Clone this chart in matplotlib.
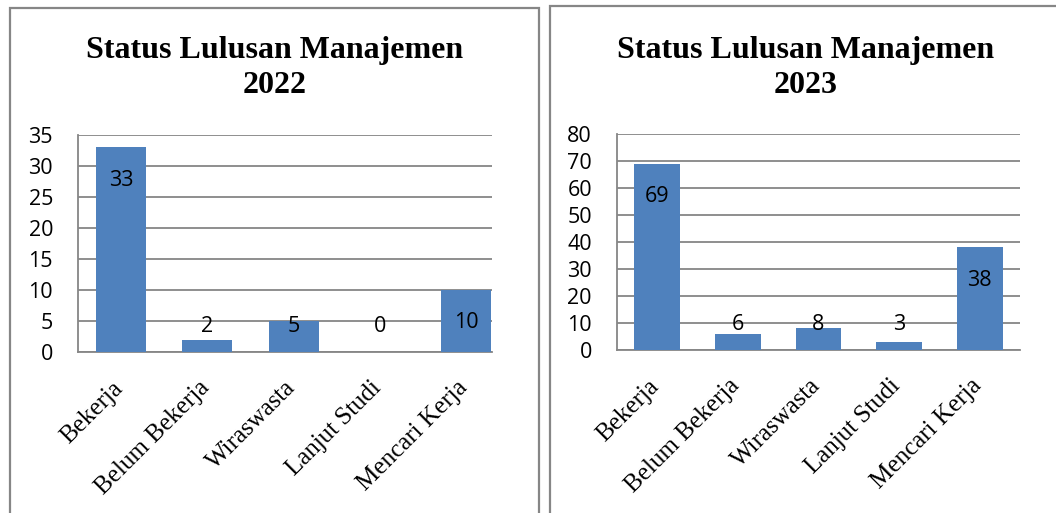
import matplotlib.pyplot as plt
from matplotlib.patches import Rectangle
from matplotlib.transforms import ScaledTranslation

categories = ["Bekerja", "Belum Bekerja", "Wiraswasta", "Lanjut Studi", "Mencari Kerja"]
values_2022 = [33, 2, 5, 0, 10]
values_2023 = [69, 6, 8, 3, 38]
title_2022 = "Status Lulusan Manajemen\n2022"
title_2023 = "Status Lulusan Manajemen\n2023"

W, H = 1056, 513
fig = plt.figure(figsize=(W / 100, H / 100), dpi=100)

bar_color = "#4F81BD"
grid_color = "#868686"
sans = ["Open Sans", "DejaVu Sans"]
serif = ["Liberation Serif", "DejaVu Serif"]


def px_box(x0, y0, x1, y1):
    # pixel box (top-left origin) -> figure fraction rect
    return [x0 / W, 1 - y1 / H, (x1 - x0) / W, (y1 - y0) / H]


# panel frames
fig.add_artist(Rectangle((10 / W, -0.05), (539 - 10) / W, 1.05 - 8 / H,
                         transform=fig.transFigure, fill=False,
                         edgecolor=grid_color, lw=1.6))
fig.add_artist(Rectangle((550 / W, -0.05), 1.2, 1.05 - 6 / H,
                         transform=fig.transFigure, fill=False,
                         edgecolor=grid_color, lw=1.6))


def draw(box, vals, ymax, step, xmax, width, title, title_x):
    ax = fig.add_axes(px_box(*box))
    x = range(len(categories))
    ax.bar(x, vals, width=width, color=bar_color, zorder=3)
    ax.set_ylim(0, ymax)
    ax.set_xlim(-0.5, xmax)
    ax.set_yticks(range(0, ymax + 1, step))
    ax.yaxis.grid(True, color=grid_color, lw=1.3, zorder=0)
    for s in ["top", "right"]:
        ax.spines[s].set_visible(False)
    for s in ["left", "bottom"]:
        ax.spines[s].set_color(grid_color)
        ax.spines[s].set_linewidth(1.3)
    ax.tick_params(axis="both", length=0)
    ax.tick_params(axis="y", pad=18)
    ax.tick_params(axis="x", pad=18)
    for lab in ax.get_yticklabels():
        lab.set_family(sans)
        lab.set_fontsize(15.5)
    ax.set_xticks(list(x))
    ax.set_xticklabels(categories, rotation=45, ha="right", va="top",
                       family=serif, fontsize=18)
    shift = ScaledTranslation(6 / 100, 0, fig.dpi_scale_trans)
    for lab in ax.get_xticklabels():
        lab.set_transform(lab.get_transform() + shift)
    h_px = box[3] - box[1]
    for i, v in enumerate(vals):
        f = v / ymax - 33 / h_px
        if f < 26 / h_px:
            f = 26 / h_px
        ax.text(i, f, str(v), transform=ax.get_xaxis_transform(),
                ha="center", va="center", family=sans, fontsize=15.5, zorder=4)
    fig.text(title_x / W, 1 - 68 / H, title, ha="center", va="center",
             family=serif, fontweight="bold", fontsize=23, linespacing=1.25)
    return ax


draw((78, 135, 492, 352), values_2022, 35, 5, 4.3, 0.58, title_2022, 275)
draw((617, 134, 1020, 350), values_2023, 80, 10, 4.5, 0.57, title_2023, 806)

fig.savefig("out.png", dpi=100)
